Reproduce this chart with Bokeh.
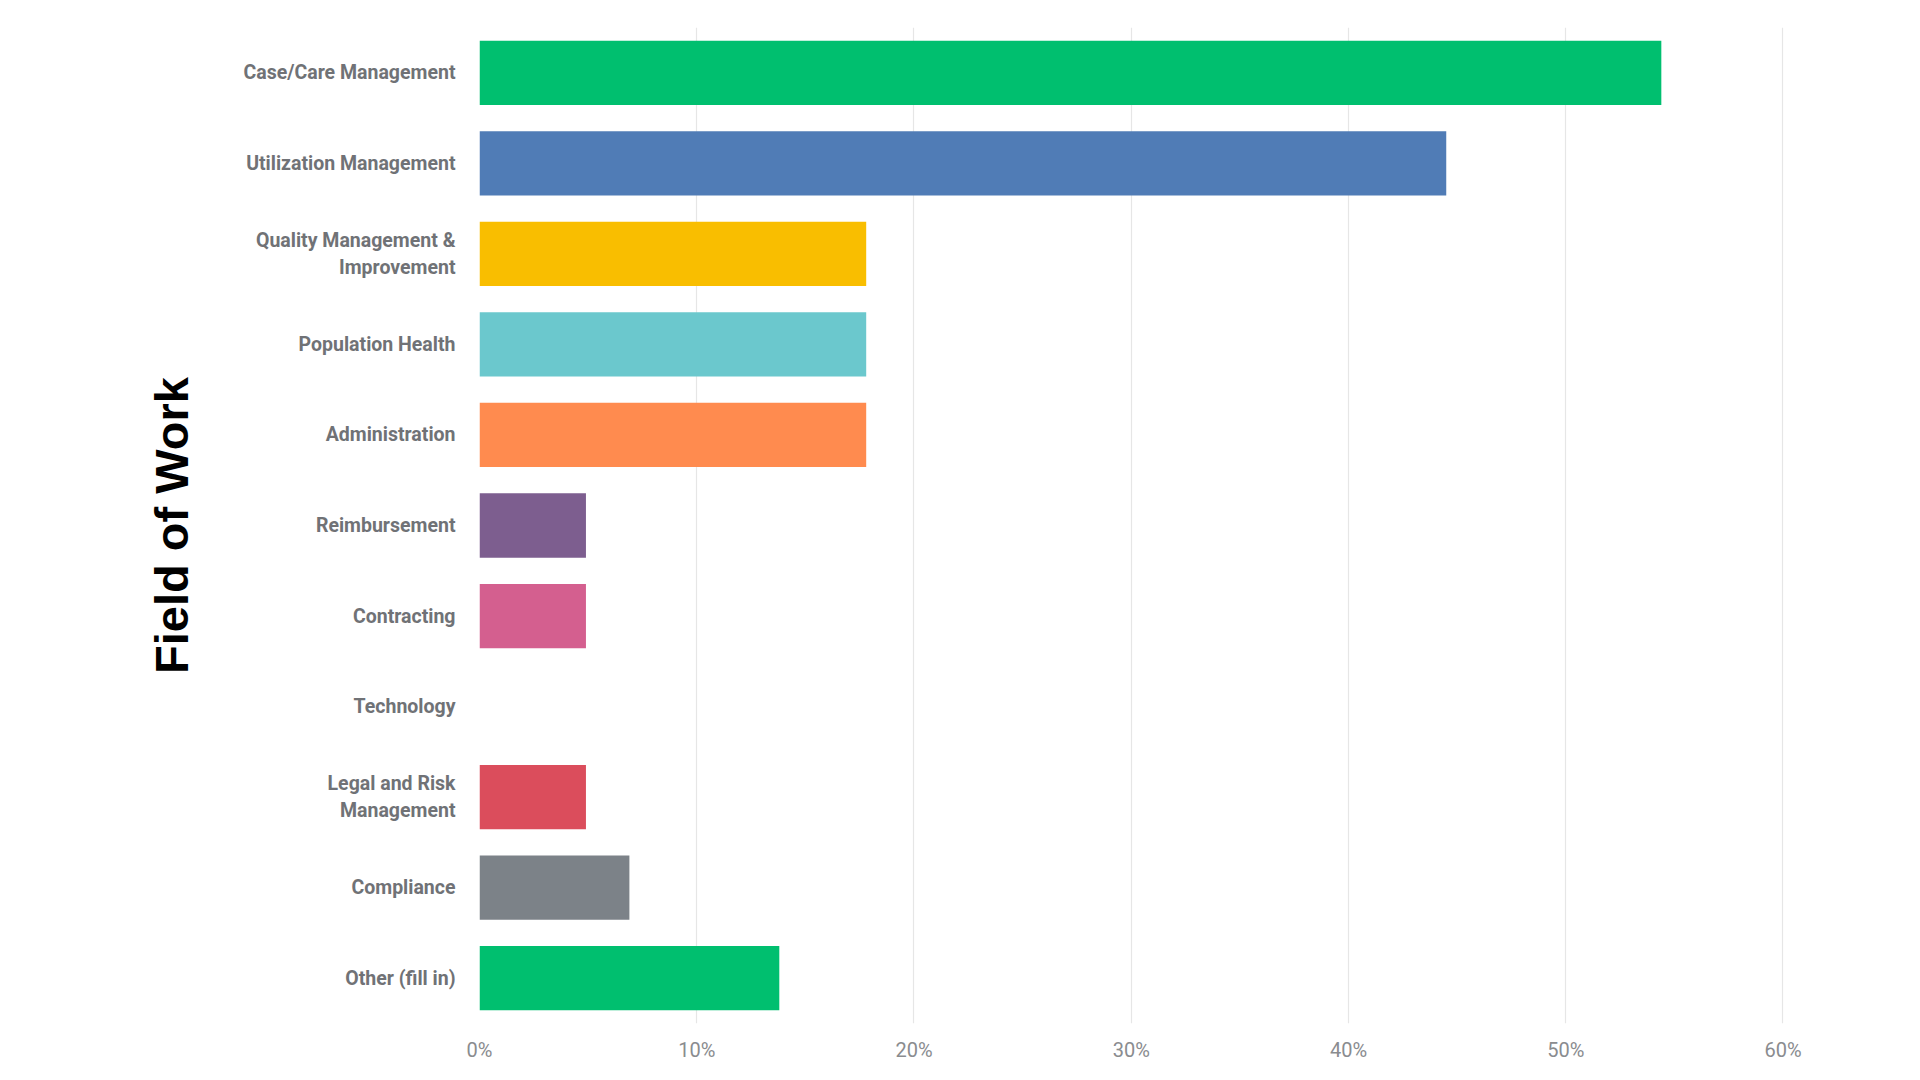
from bokeh.plotting import figure
from bokeh.models import ColumnDataSource, Range1d, FixedTicker, LinearAxis
from bokeh.embed import file_html
from bokeh.resources import INLINE

categories = [
    "Case/Care Management",
    "Utilization Management",
    "Quality Management & Improvement",
    "Population Health",
    "Administration",
    "Reimbursement",
    "Contracting",
    "Technology",
    "Legal and Risk Management",
    "Compliance",
    "Other (fill in)",
]
values = [54.4, 44.5, 17.8, 17.8, 17.8, 4.9, 4.9, 0.0, 4.9, 6.9, 13.8]
colors = ["#00bf6f", "#507cb6", "#f9be00", "#6bc8cd", "#ff8b4f", "#7d5e8f",
          "#d45f8f", "#ff8b4f", "#db4d5c", "#7c8288", "#00bf6f"]
# displayed category labels, wrapped as in the chart
label_lines = {
    "Quality Management & Improvement": ["Quality Management &", "Improvement"],
    "Legal and Risk Management": ["Legal and Risk", "Management"],
}
x_ticks = [0, 10, 20, 30, 40, 50, 60]
x_tick_labels = {t: f"{t}%" for t in x_ticks}

n_cat = len(categories)
# band centres: first category at the top
ypos = [n_cat - i - 0.5 for i in range(n_cat)]
src = ColumnDataSource(dict(cat=categories, y=ypos, val=values, color=colors))

FRAME_H = 1005
LINE_STEP = 27.0 / (FRAME_H / n_cat)  # line spacing in band units

# tick positions for the category labels (one per text line)
lab_ticks, lab_over = [], {}
for c, centre in zip(categories, ypos):
    lines = label_lines.get(c, [c])
    n = len(lines)
    for j, t in enumerate(lines):
        pos = round(centre + ((n - 1) / 2 - j) * LINE_STEP, 4)
        lab_ticks.append(pos)
        lab_over[pos] = t

p = figure(
    width=1900, height=1064,
    y_range=Range1d(0, n_cat),
    x_range=Range1d(0, 60.3),
    output_backend="svg", toolbar_location=None,
    y_axis_location=None,
    min_border_left=479, min_border_right=111, min_border_top=27, min_border_bottom=32,
)
p.hbar(y="y", right="val", left=0, height=0.71, color="color", line_color=None, source=src)

yax = LinearAxis(ticker=FixedTicker(ticks=lab_ticks))
yax.major_label_overrides = lab_over
yax.axis_line_color = None
yax.major_tick_line_color = None
yax.minor_tick_line_color = None
yax.major_label_standoff = 18
yax.major_label_text_font = "Roboto"
yax.major_label_text_font_style = "bold"
yax.major_label_text_font_size = "19.5px"
yax.major_label_text_color = "#707276"
yax.axis_label = "Field of Work"
yax.axis_label_text_font = "Liberation Sans"
yax.axis_label_text_font_style = "bold"
yax.axis_label_text_font_size = "47px"
yax.axis_label_text_color = "black"
yax.axis_label_standoff = 42
p.add_layout(yax, "left")

p.outline_line_color = None
p.background_fill_color = "white"
p.border_fill_color = "white"

p.ygrid.grid_line_color = None
p.xgrid.grid_line_color = "#e6e6e6"
p.xgrid.grid_line_width = 1.2
p.xgrid.ticker = FixedTicker(ticks=x_ticks)

p.xaxis.ticker = FixedTicker(ticks=x_ticks)
p.xaxis.major_label_overrides = x_tick_labels
p.xaxis.axis_line_color = None
p.xaxis.major_tick_line_color = None
p.xaxis.minor_tick_line_color = None
p.xaxis.major_label_standoff = 8
p.xaxis.major_label_text_font = "Roboto"
p.xaxis.major_label_text_font_size = "20px"
p.xaxis.major_label_text_color = "#8a8c8f"

open("out.html", "w").write(file_html(p, INLINE))
